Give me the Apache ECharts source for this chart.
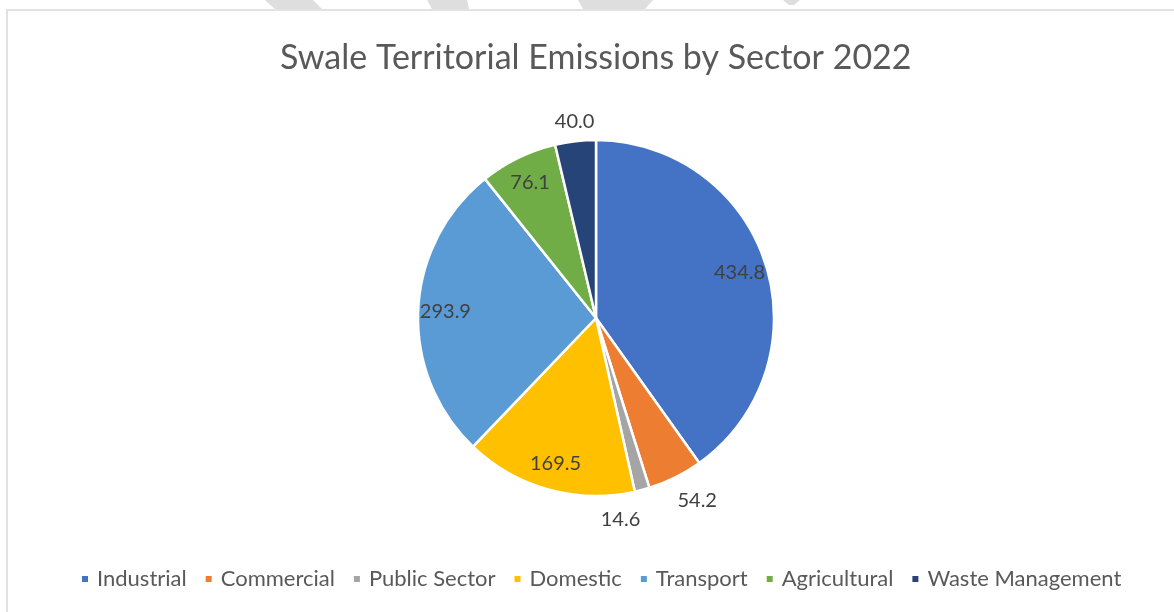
<!DOCTYPE html>
<html>
<head>
<meta charset="utf-8">
<script src="https://cdn.jsdelivr.net/npm/echarts@6/dist/echarts.min.js"></script>
<style>
html,body{margin:0;padding:0;background:#fff;}
#chart{width:1174px;height:612px;}
</style>
</head>
<body>
<div id="chart"></div>
<script>
const titleText = 'Swale Territorial Emissions by Sector 2022';
const categories = ['Industrial', 'Commercial', 'Public Sector', 'Domestic', 'Transport', 'Agricultural', 'Waste Management'];
const values = [434.8, 54.2, 14.6, 169.5, 293.9, 76.1, 40.0];
const colors = ['#4472C4', '#ED7D31', '#A5A5A5', '#FFC000', '#5B9BD5', '#70AD47', '#264478'];
const outsideLabelled = ['Commercial', 'Public Sector', 'Waste Management'];

const FONT = 'Lato, "Open Sans", sans-serif';
const CENTER = [596, 318];
const R = 178;

const chart = echarts.init(document.getElementById('chart'), null, {renderer: 'canvas'});

const labelStyle = {
  position: 'inside',
  formatter: p => p.value.toFixed(1),
  fontFamily: FONT,
  fontSize: 20,
  color: '#404040'
};

const mainData = categories.map((c, i) => ({
  name: c,
  value: values[i],
  itemStyle: {color: colors[i]}
}));
const innerLabelData = categories.map((c, i) => ({
  name: c,
  value: values[i],
  label: {show: outsideLabelled.indexOf(c) < 0}
}));
const outerLabelData = categories.map((c, i) => ({
  name: c,
  value: values[i],
  label: {
    show: outsideLabelled.indexOf(c) >= 0,
    offset: c === 'Public Sector' ? [-28, 6] : (c === 'Commercial' ? [11, 1] : [2, 5])
  }
}));

const transparentItem = {color: 'rgba(0,0,0,0)', borderWidth: 0};

const option = {
  backgroundColor: '#ffffff',
  animation: false,
  title: {
    text: titleText,
    left: 275,
    top: 36,
    textStyle: {fontFamily: FONT, fontSize: 34, fontWeight: 'normal', color: '#595959'}
  },
  legend: {
    bottom: 17,
    left: 75,
    icon: 'rect',
    itemWidth: 8,
    itemHeight: 8,
    itemGap: 17,
    data: categories,
    textStyle: {fontFamily: FONT, fontSize: 22, color: '#595959', padding: [0, 0, 0, 3]}
  },
  graphic: [
    {type: 'rect', shape: {x: 7, y: 10, width: 1200, height: 700}, style: {fill: 'none', stroke: '#d9d9d9', lineWidth: 1.5}, z: -10, silent: true},
    {type: 'polygon', shape: {points: [[265,0],[313,0],[322,9],[275,9]]}, style: {fill: '#dedede'}, silent: true},
    {type: 'polygon', shape: {points: [[427,0],[467,0],[469,9],[432,9]]}, style: {fill: '#dedede'}, silent: true},
    {type: 'polygon', shape: {points: [[578,0],[653,0],[645,9],[583,9]]}, style: {fill: '#dedede'}, silent: true},
    {type: 'polygon', shape: {points: [[783,0],[800,0],[794,5],[789,5]]}, style: {fill: '#dedede'}, silent: true}
  ],
  series: [
    {
      type: 'pie',
      center: CENTER,
      radius: R,
      startAngle: 90,
      clockwise: true,
      data: mainData,
      itemStyle: {borderColor: '#ffffff', borderWidth: 2.5},
      label: {show: false},
      labelLine: {show: false},
      emphasis: {disabled: true}
    },
    {
      type: 'pie',
      center: CENTER,
      radius: R * 1.66,
      startAngle: 90,
      clockwise: true,
      silent: true,
      avoidLabelOverlap: false,
      data: innerLabelData,
      itemStyle: transparentItem,
      label: labelStyle,
      labelLine: {show: false},
      emphasis: {disabled: true}
    },
    {
      type: 'pie',
      center: CENTER,
      radius: R * 2.24,
      startAngle: 90,
      clockwise: true,
      silent: true,
      avoidLabelOverlap: false,
      data: outerLabelData,
      itemStyle: transparentItem,
      label: labelStyle,
      labelLine: {show: false},
      emphasis: {disabled: true}
    }
  ]
};
chart.setOption(option);
</script>
</body>
</html>
